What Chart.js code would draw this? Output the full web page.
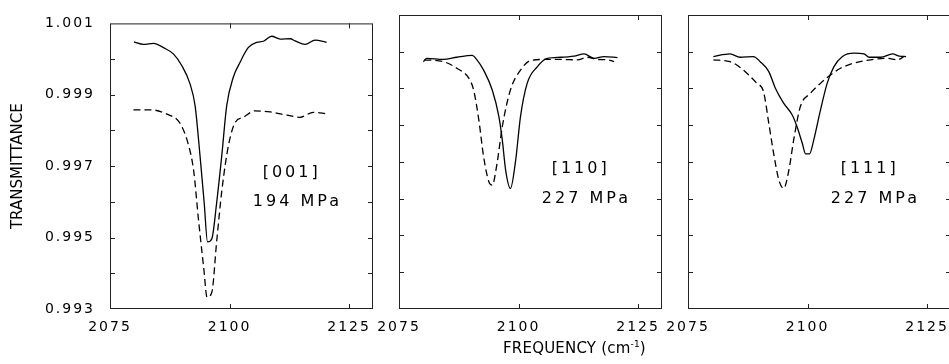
<!DOCTYPE html>
<html>
<head>
<meta charset="utf-8">
<script src="https://cdn.jsdelivr.net/npm/chart.js@4.4.0/dist/chart.umd.min.js"></script>
<style>
html, body { margin: 0; padding: 0; background: #fff; overflow: hidden; }
body { width: 949px; height: 364px; position: relative; }
canvas { position: absolute; top: 0; }
#xtitle {
    position: absolute; left: 503px; top: 341px;
    font: 15px "DejaVu Sans"; line-height: 15px; letter-spacing: 0.2px;
    color: #000; white-space: nowrap;
}
#xtitle sup { font-size: 9px; vertical-align: 6px; line-height: 0; }
</style>
</head>
<body>
<canvas id="panel1" width="380" height="364" style="left:0px"></canvas>
<canvas id="panel2" width="320" height="364" style="left:360px"></canvas>
<canvas id="panel3" width="330" height="364" style="left:650px"></canvas>
<div id="xtitle">FREQUENCY (cm<sup>-1</sup>)</div>
<script>
// ===== Data =====
const xTicks = [2075, 2100, 2125];
const xTickLabels = ['2075', '2100', '2125'];
const yTicks = [0.993, 0.994, 0.995, 0.996, 0.997, 0.998, 0.999, 1.000, 1.001];
const yTickLabels = ['0.993', '', '0.995', '', '0.997', '', '0.999', '', '1.001'];

const panelTags = ['[001]', '[110]', '[111]'];
const panelPressures = ['194 MPa', '227 MPa', '227 MPa'];

// [001], 194 MPa
const freq1Solid = [2080.0, 2082.0, 2084.1, 2086.2, 2088.3, 2090.0, 2091.7, 2092.8, 2093.8, 2094.7, 2095.4, 2096.3, 2097.3, 2098.4, 2099.4, 2100.8, 2102.2, 2103.9, 2105.7, 2107.1, 2108.8, 2110.6, 2112.7, 2113.7, 2115.8, 2117.9, 2120.3];
const trans1Solid = [1.00048, 1.00041, 1.00044, 1.00032, 1.00014, 0.99982, 0.99932, 0.99869, 0.99733, 0.99597, 0.99488, 0.99497, 0.99597, 0.99733, 0.99869, 0.99950, 0.99991, 1.00032, 1.00047, 1.00050, 1.00064, 1.00056, 1.00057, 1.00051, 1.00041, 1.00053, 1.00047];
const freq1Dashed = [2079.9, 2083.4, 2086.9, 2089.7, 2091.4, 2092.5, 2093.5, 2094.6, 2095.3, 2096.3, 2097.3, 2098.4, 2099.8, 2101.2, 2102.9, 2105.3, 2108.5, 2112.0, 2114.7, 2117.5, 2120.3];
const trans1Dashed = [0.99858, 0.99858, 0.99846, 0.99819, 0.99760, 0.99687, 0.99551, 0.99415, 0.99333, 0.99347, 0.99488, 0.99633, 0.99760, 0.99823, 0.99837, 0.99855, 0.99852, 0.99843, 0.99837, 0.99851, 0.99847];

// [110], 227 MPa
const freq2Solid = [2080.1, 2080.8, 2084.3, 2087.1, 2090.3, 2091.3, 2092.7, 2094.5, 2095.9, 2096.6, 2097.3, 2098.3, 2099.4, 2100.4, 2101.8, 2103.9, 2106.0, 2108.8, 2111.6, 2113.7, 2115.8, 2117.9, 2120.7];
const trans2Solid = [0.99973, 0.99982, 0.99979, 0.99985, 0.99990, 0.99978, 0.99950, 0.99896, 0.99823, 0.99760, 0.99678, 0.99628, 0.99705, 0.99823, 0.99914, 0.99959, 0.99982, 0.99985, 0.99988, 0.99994, 0.99982, 0.99987, 0.99984];
const freq2Dashed = [2080.3, 2084.3, 2087.1, 2089.6, 2090.6, 2091.7, 2092.7, 2093.8, 2094.5, 2095.5, 2096.6, 2098.3, 2100.4, 2102.5, 2105.3, 2108.8, 2112.3, 2114.4, 2116.5, 2118.6, 2120.0];
const trans2Dashed = [0.99978, 0.99973, 0.99955, 0.99928, 0.99896, 0.99814, 0.99714, 0.99646, 0.99637, 0.99696, 0.99796, 0.99896, 0.99950, 0.99976, 0.99979, 0.99979, 0.99978, 0.99985, 0.99979, 0.99978, 0.99973];

// [111], 227 MPa
const freq3Solid = [2080.3, 2083.8, 2085.9, 2088.7, 2090.1, 2091.9, 2093.3, 2095.0, 2096.8, 2097.8, 2098.9, 2099.6, 2100.4, 2101.3, 2102.7, 2104.1, 2105.5, 2107.3, 2109.7, 2111.8, 2112.9, 2115.3, 2117.8, 2119.2, 2120.6];
const trans3Solid = [0.99987, 0.99994, 0.99985, 0.99987, 0.99973, 0.99946, 0.99900, 0.99860, 0.99828, 0.99796, 0.99751, 0.99722, 0.99722, 0.99760, 0.99841, 0.99914, 0.99959, 0.99987, 0.99996, 0.99994, 0.99985, 0.99985, 0.99994, 0.99988, 0.99987];
const freq3Dashed = [2080.3, 2083.8, 2085.2, 2087.7, 2089.4, 2090.8, 2091.9, 2092.9, 2094.0, 2095.0, 2096.1, 2097.1, 2098.5, 2100.6, 2102.7, 2104.8, 2106.9, 2109.7, 2113.2, 2116.7, 2118.8, 2120.2];
const trans3Dashed = [0.99978, 0.99973, 0.99964, 0.99937, 0.99914, 0.99891, 0.99805, 0.99724, 0.99651, 0.99628, 0.99678, 0.99760, 0.99851, 0.99887, 0.99914, 0.99937, 0.99955, 0.99969, 0.99978, 0.99982, 0.99978, 0.99987];

// ===== Frame, inward ticks and panel labels =====
const TICK = 5;
const INK = '#000';

const framePlugin = {
    id: 'frame',
    beforeDraw(chart) {
        chart.ctx.letterSpacing = '2px';
    },
    afterDraw(chart, args, opts) {
        const { ctx, chartArea: a, scales: { x, y } } = chart;
        ctx.save();
        ctx.strokeStyle = '#222';
        ctx.lineWidth = 1;
        ctx.strokeRect(a.left + 0.5, a.top + 0.5, a.right - a.left - 1, a.bottom - a.top - 1);

        ctx.beginPath();
        y.ticks.forEach(t => {
            const py = Math.round(y.getPixelForValue(t.value)) + 0.5;
            if (py <= a.top + 2 || py >= a.bottom - 2) return;
            ctx.moveTo(a.left, py); ctx.lineTo(a.left + TICK, py);
            ctx.moveTo(a.right, py); ctx.lineTo(a.right - TICK, py);
        });
        x.ticks.forEach(t => {
            const px = Math.round(x.getPixelForValue(t.value)) + 0.5;
            if (px <= a.left + 2 || px >= a.right - 2) return;
            ctx.moveTo(px, a.bottom); ctx.lineTo(px, a.bottom - TICK);
            ctx.moveTo(px, a.top); ctx.lineTo(px, a.top + TICK);
        });
        ctx.stroke();

        // Panel labels
        ctx.fillStyle = INK;
        ctx.font = '16px "DejaVu Sans"';
        ctx.letterSpacing = '3px';
        ctx.textAlign = 'center';
        ctx.textBaseline = 'alphabetic';
        ctx.fillText(opts.tag, x.getPixelForValue(2113.0), y.getPixelForValue(0.99669));
        ctx.fillText(opts.pressure, x.getPixelForValue(2114.2), y.getPixelForValue(0.99588));

        // Y title (first panel only)
        if (opts.yTitle) {
            ctx.font = '15px "DejaVu Sans"';
            ctx.letterSpacing = '0px';
            ctx.translate(18, (a.top + a.bottom) / 2);
            ctx.rotate(-Math.PI / 2);
            ctx.textBaseline = 'middle';
            ctx.fillText(opts.yTitle, 0, 0);
        }
        ctx.restore();
    }
};

function toPoints(xs, ys) {
    return xs.map((v, i) => ({ x: v, y: ys[i] }));
}

function makePanel(canvasId, idx, freqS, transS, freqD, transD, yWidth, padRight, showY) {
    return new Chart(document.getElementById(canvasId), {
        type: 'line',
        data: {
            datasets: [
                {
                    data: toPoints(freqS, transS),
                    borderColor: INK,
                    borderWidth: 1.3,
                    pointRadius: 0,
                    cubicInterpolationMode: 'monotone'
                },
                {
                    data: toPoints(freqD, transD),
                    borderColor: INK,
                    borderWidth: 1.3,
                    borderDash: [7, 4],
                    pointRadius: 0,
                    cubicInterpolationMode: 'monotone'
                }
            ]
        },
        options: {
            responsive: false,
            animation: false,
            events: [],
            layout: { padding: { top: 15, right: padRight, bottom: 0, left: 0 } },
            plugins: {
                legend: { display: false },
                tooltip: { enabled: false },
                frame: {
                    tag: panelTags[idx],
                    pressure: panelPressures[idx],
                    yTitle: showY ? 'TRANSMITTANCE' : null
                }
            },
            scales: {
                x: {
                    type: 'linear',
                    min: 2075,
                    max: 2130,
                    afterBuildTicks: s => { s.ticks = xTicks.map(v => ({ value: v })); },
                    afterFit: s => { s.height = 55; },
                    grid: { display: false, drawTicks: false },
                    border: { display: false },
                    ticks: {
                        color: INK,
                        font: { family: 'DejaVu Sans', size: 14 },
                        padding: 10,
                        maxRotation: 0,
                        autoSkip: false,
                        callback: (v, i) => xTickLabels[i]
                    }
                },
                y: {
                    type: 'linear',
                    min: 0.993,
                    max: 1.001,
                    afterBuildTicks: s => { s.ticks = yTicks.map(v => ({ value: v })); },
                    afterFit: s => { s.width = yWidth; },
                    grid: { display: false, drawTicks: false },
                    border: { display: false },
                    ticks: {
                        display: showY,
                        color: INK,
                        font: { family: 'DejaVu Sans', size: 14 },
                        padding: 15,
                        autoSkip: false,
                        callback: (v, i) => yTickLabels[i]
                    }
                }
            }
        },
        plugins: [framePlugin]
    });
}

// ===== Panels =====
makePanel('panel1', 0, freq1Solid, trans1Solid, freq1Dashed, trans1Dashed, 110, 7, true);
makePanel('panel2', 1, freq2Solid, trans2Solid, freq2Dashed, trans2Dashed, 39, 18, false);
makePanel('panel3', 2, freq3Solid, trans3Solid, freq3Dashed, trans3Dashed, 38, 29, false);
</script>
</body>
</html>
